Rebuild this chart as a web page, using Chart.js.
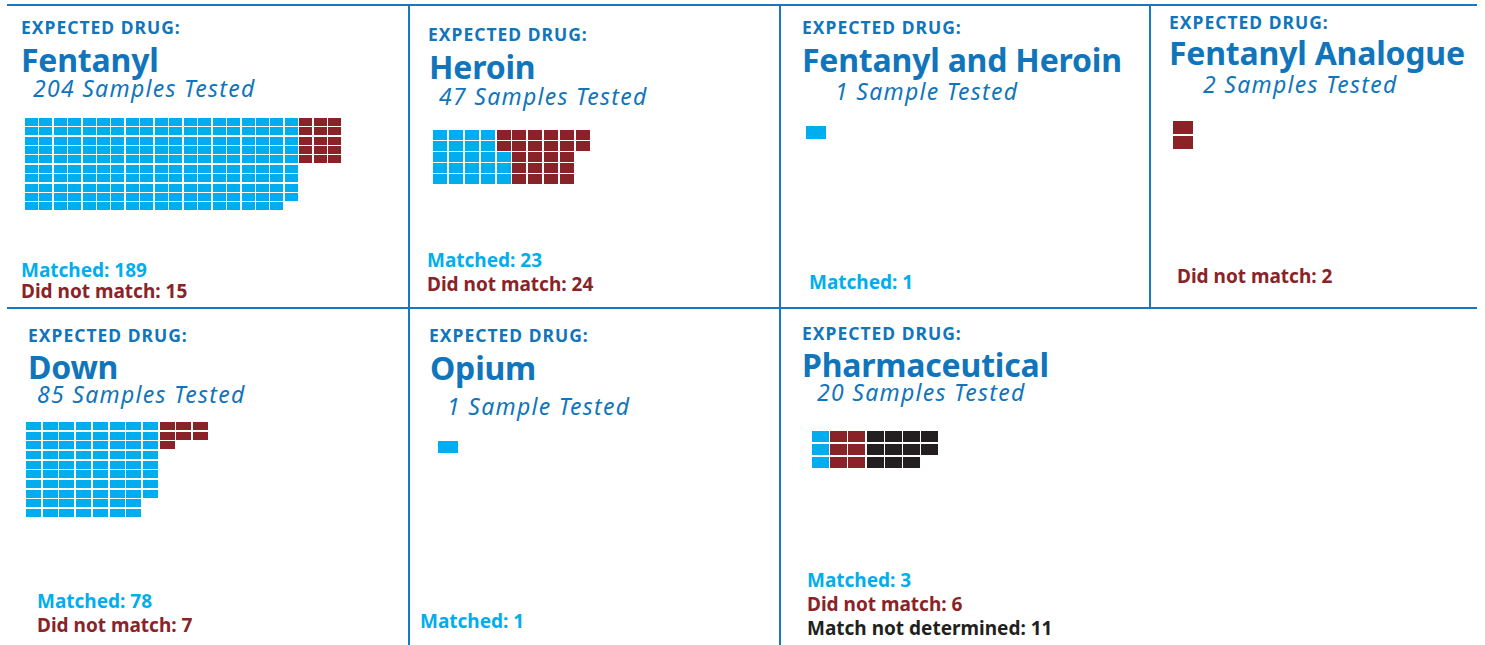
<!DOCTYPE html>
<html>
<head>
<meta charset="utf-8">
<script src="https://cdn.jsdelivr.net/npm/chart.js@4"></script>
<style>
  html, body { margin: 0; padding: 0; background: #fff; }
  #page { position: relative; width: 1485px; height: 645px; overflow: hidden; font-family: "Noto Sans", sans-serif; }
  .rule { position: absolute; background: #1777c0; }
  .txt { position: absolute; white-space: nowrap; line-height: 0.85; }
  .label { font-weight: 700; font-size: 17.5px; color: #1175bb; letter-spacing: 1px; }
  .title { font-weight: 700; font-size: 32px; color: #1175bb; letter-spacing: -0.2px; }
  .tested { font-style: italic; font-size: 23px; color: #1175bb; letter-spacing: 1.3px; }
  .count { font-weight: 700; font-size: 19px; }
  canvas.waffle { position: absolute; }
</style>
</head>
<body>
<div id="page"></div>
<script>
// data
const drugs = ['Fentanyl', 'Heroin', 'Fentanyl and Heroin', 'Fentanyl Analogue', 'Down', 'Opium', 'Pharmaceutical'];
const matched = [189, 23, 1, 0, 78, 1, 3];
const notMatched = [15, 24, 0, 2, 7, 0, 6];
const notDetermined = [0, 0, 0, 0, 0, 0, 11];
const seriesNames = ['Matched', 'Did not match', 'Match not determined'];
const seriesColors = ['#00aeef', '#8a2328', '#231f20'];

// where each panel's pieces sit and how its cells are filled
const layout = [
  { label: [21, 34], title: [21, 72], tested: [33, 98], counts: [21, 277], gap: 21.6,
    grid: { x: 25, y: 118, cols: 22, rows: 10, sx: 14.45, sy: 9.44, w: 13, h: 8 },
    fill: [{ order: 'colDown', start: 0 }, { order: 'rows', start: 19, width: 3 }] },
  { label: [428, 41], title: [429, 79], tested: [439, 106], counts: [427, 267], gap: 24.3,
    grid: { x: 433, y: 129, cols: 10, rows: 5, sx: 15.9, sy: 11, w: 14, h: 10 },
    fill: [{ order: 'colUp', start: 0 }, { order: 'colDown', start: 0 }] },
  { label: [802, 34], title: [802, 72], tested: [835, 101], counts: [809, 289], gap: 24,
    grid: { x: 806, y: 126, cols: 1, rows: 1, sx: 20, sy: 13, w: 20, h: 13 },
    fill: [{ order: 'colDown', start: 0 }] },
  { label: [1169, 29], title: [1169, 65], tested: [1203, 94], counts: [1177, 283], gap: 24,
    grid: { x: 1173, y: 121, cols: 1, rows: 2, sx: 20, sy: 15, w: 20, h: 13 },
    fill: [{ order: 'colDown', start: 0 }, { order: 'colDown', start: 0 }] },
  { label: [28, 342], title: [28, 379], tested: [37, 404], counts: [37, 608], gap: 24,
    grid: { x: 26, y: 422, cols: 11, rows: 10, sx: 16.7, sy: 9.67, w: 15, h: 8 },
    fill: [{ order: 'colDown', start: 0 }, { order: 'rows', start: 8, width: 3 }] },
  { label: [429, 342], title: [430, 380], tested: [447, 416], counts: [420, 628], gap: 24,
    grid: { x: 438, y: 441, cols: 1, rows: 1, sx: 20, sy: 12, w: 20, h: 12 },
    fill: [{ order: 'colDown', start: 0 }] },
  { label: [802, 340], title: [802, 377], tested: [817, 402], counts: [807, 587], gap: 24,
    grid: { x: 812, y: 431, cols: 7, rows: 3, sx: 18.3, sy: 13, w: 17, h: 11 },
    fill: [{ order: 'colDown', start: 0 }, { order: 'colDown', start: 0 }, { order: 'colDown', start: 0 }] }
];

const page = document.getElementById('page');

function rule(x, y, w, h) {
  const d = document.createElement('div');
  d.className = 'rule';
  Object.assign(d.style, { left: x + 'px', top: y + 'px', width: w + 'px', height: h + 'px' });
  page.appendChild(d);
}

function text(cls, str, x, baseline, color) {
  const d = document.createElement('div');
  d.className = 'txt ' + cls;
  d.textContent = str;
  page.appendChild(d);
  const size = parseFloat(getComputedStyle(d).fontSize);
  d.style.left = x + 'px';
  // baseline offset for Noto Sans at line-height 0.85
  d.style.top = (baseline - (0.85 / 2 + 0.388) * size) + 'px';
  if (color) d.style.color = color;
}

function cellImage(color, w, h) {
  const c = document.createElement('canvas');
  c.width = w;
  c.height = h;
  const ctx = c.getContext('2d');
  ctx.fillStyle = color;
  ctx.fillRect(0, 0, w, h);
  return c;
}

// walk the grid in the given order, skipping cells already used
function placeCells(count, spec, grid, taken) {
  const out = [];
  const seq = [];
  if (spec.order === 'rows') {
    for (let r = 0; r < grid.rows; r++)
      for (let c = spec.start; c < spec.start + spec.width; c++) seq.push([c, r]);
  } else {
    for (let c = spec.start; c < grid.cols; c++)
      for (let i = 0; i < grid.rows; i++) seq.push([c, spec.order === 'colUp' ? grid.rows - 1 - i : i]);
  }
  for (const [c, r] of seq) {
    if (out.length >= count) break;
    const key = c + ',' + r;
    if (taken.has(key)) continue;
    taken.add(key);
    out.push({ x: c, y: r });
  }
  return out;
}

function drawWaffle(i) {
  const g = layout[i].grid;
  const canvas = document.createElement('canvas');
  canvas.className = 'waffle';
  const W = Math.round(g.cols * g.sx);
  const H = Math.round(g.rows * g.sy);
  canvas.width = W;
  canvas.height = H;
  canvas.style.width = W + 'px';
  canvas.style.height = H + 'px';
  canvas.style.left = Math.round(g.x - (g.sx - g.w) / 2) + 'px';
  canvas.style.top = Math.round(g.y - (g.sy - g.h) / 2) + 'px';
  page.appendChild(canvas);

  const counts = [matched[i], notMatched[i], notDetermined[i]];
  const taken = new Set();
  const datasets = [];
  counts.forEach((n, s) => {
    if (!n) return;
    const spec = layout[i].fill[s] || { order: 'colDown', start: 0 };
    datasets.push({
      label: seriesNames[s],
      data: placeCells(n, spec, g, taken),
      pointStyle: cellImage(seriesColors[s], g.w, g.h),
      pointRadius: 1,
      pointBorderWidth: 0,
      clip: false
    });
  });

  new Chart(canvas, {
    type: 'scatter',
    data: { datasets },
    options: {
      responsive: false,
      animation: false,
      events: [],
      layout: { padding: 0, autoPadding: false },
      plugins: { legend: { display: false }, tooltip: { enabled: false } },
      scales: {
        x: { type: 'linear', min: -0.5, max: g.cols - 0.5, display: false },
        y: { type: 'linear', min: -0.5, max: g.rows - 0.5, reverse: true, display: false }
      }
    }
  });
}

// panel rules
rule(7, 4, 1470, 2);
rule(7, 307, 1470, 2);
rule(408, 5, 2, 640);
rule(779, 5, 2, 640);
rule(1149, 5, 2, 303);

drugs.forEach((name, i) => {
  const L = layout[i];
  const total = matched[i] + notMatched[i] + notDetermined[i];
  text('label', 'EXPECTED DRUG:', L.label[0], L.label[1]);
  text('title', name, L.title[0], L.title[1]);
  text('tested', total + (total === 1 ? ' Sample Tested' : ' Samples Tested'), L.tested[0], L.tested[1]);

  const lines = [];
  if (matched[i]) lines.push([seriesNames[0] + ': ' + matched[i], seriesColors[0]]);
  if (notMatched[i]) lines.push([seriesNames[1] + ': ' + notMatched[i], seriesColors[1]]);
  if (notDetermined[i]) lines.push([seriesNames[2] + ': ' + notDetermined[i], seriesColors[2]]);
  lines.forEach((ln, k) => text('count', ln[0], L.counts[0], L.counts[1] + k * L.gap, ln[1]));

  drawWaffle(i);
});
</script>
</body>
</html>
